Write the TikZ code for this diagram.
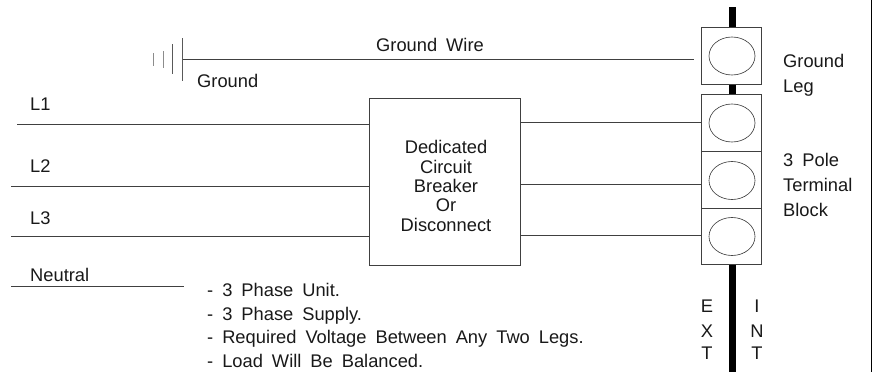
\documentclass[tikz,border=0pt]{standalone}
\usepackage{fontspec}
\setmainfont{Liberation Sans}
\usetikzlibrary{shapes.geometric}
\tikzset{
  wire/.style={draw=black!75,line width=0.7pt},
  bar/.style={draw=black,line width=7pt},
  termbox/.style={draw=black!75,line width=0.7pt,minimum width=60pt,minimum height=57pt,inner sep=0pt,outer sep=0pt},
  hole/.style={draw=black!80,line width=0.6pt,ellipse,minimum width=46pt,minimum height=38pt,inner sep=0pt},
  lbl/.style={font=\fontsize{18.3}{19.3}\selectfont,inner sep=0pt,text=black!90},
  wlbl/.style={lbl,execute at begin node={\spaceskip=9pt plus 1pt minus 1pt\relax}},
  gnd/.style={draw=black!65,line width=0.7pt},
  gndf/.style={draw=black!45,line width=1pt}
}
\begin{document}
\begin{tikzpicture}[x=1pt,y=-1pt]
\useasboundingbox (0,0) rectangle (872,372);
\fill[white] (0,0) rectangle (872,372);
\draw[black,line width=1pt] (871.5,0) -- (871.5,372);
\coordinate (bt) at (732.5,7);
\coordinate (bb) at (732.5,372);
\draw[bar] (bt) -- (bb);
\node[termbox,fill=white] (gb) at (731,55.5) {};
\node[termbox,fill=white,minimum height=57.5pt] (t1) at (731,123) {};
\node[termbox,fill=white,minimum height=56.5pt] (t2) at (731,180) {};
\node[termbox,fill=white,minimum height=56.5pt] (t3) at (731,236.5) {};
\node[hole] (hg) at (732,56) {};
\node[hole] (h1) at (732,123) {};
\node[hole] (h2) at (732,180.5) {};
\node[hole] (h3) at (732,236.5) {};
\node[draw=black!75,line width=0.7pt,minimum width=151pt,minimum height=167pt,inner sep=0pt,outer sep=0pt] (cb) at (444.5,181.5) {};
\node[lbl,align=center,anchor=base] (cbt) at (446,231) {Dedicated\\Circuit\\Breaker\\Or\\Disconnect};
\coordinate (l1s) at (17,124);
\coordinate (l2s) at (11,186);
\coordinate (l3s) at (11,236);
\coordinate (r1s) at (520,122.7);
\coordinate (r2s) at (520,184.5);
\coordinate (r3s) at (520,235);
\coordinate (ns) at (11,286);
\coordinate (ne) at (184,286);
\coordinate (gs) at (182,59);
\coordinate (ge) at (694,59);
\draw[wire] (l1s) -- (l1s-|cb.west);
\draw[wire] (l2s) -- (l2s-|cb.west);
\draw[wire] (l3s) -- (l3s-|cb.west);
\draw[wire] (ns) -- (ne);
\draw[wire] (gs) -- (ge);
\draw[wire] (r1s) -- (r1s-|t1.west);
\draw[wire] (r2s) -- (r2s-|t2.west);
\draw[wire] (r3s) -- (r3s-|t3.west);
\draw[gnd] (182,38) -- (182,81);
\draw[gnd] (172,44) -- (172,74);
\draw[gndf] (163,51) -- (163,68);
\draw[gndf] (153,53) -- (153,66);
\node[wlbl,anchor=base west] (tw) at (376,51) {Ground Wire};
\node[lbl,anchor=base west] (tg) at (197,87) {Ground};
\node[lbl,anchor=base west] (tl1) at (30,110) {L1};
\node[lbl,anchor=base west] (tl2) at (30,172) {L2};
\node[lbl,anchor=base west] (tl3) at (30,224) {L3};
\node[lbl,anchor=base west] (tn) at (30,281) {Neutral};
\node[lbl,anchor=base west] (tg1) at (783,67) {Ground};
\node[lbl,anchor=base west] (tg2) at (783,92) {Leg};
\node[wlbl,anchor=base west] (tp1) at (783,166) {3 Pole};
\node[lbl,anchor=base west] (tp2) at (783,191) {Terminal};
\node[lbl,anchor=base west] (tp3) at (783,216) {Block};
\node[wlbl,anchor=base west] (n1) at (207,296) {- 3 Phase Unit.};
\node[wlbl,anchor=base west] (n2) at (207,320) {- 3 Phase Supply.};
\node[wlbl,anchor=base west] (n3) at (207,343) {- Required Voltage Between Any Two Legs.};
\node[wlbl,anchor=base west] (n4) at (207,367) {- Load Will Be Balanced.};
\foreach \n/\t/\y in {e/E/312,x/X/337,t/T/359}{\node[lbl,anchor=base] (ex\n) at (707,\y) {\t};}
\foreach \n/\t/\y in {i/I/312,n/N/337,t/T/359}{\node[lbl,anchor=base] (in\n) at (757,\y) {\t};}
\end{tikzpicture}
\end{document}
